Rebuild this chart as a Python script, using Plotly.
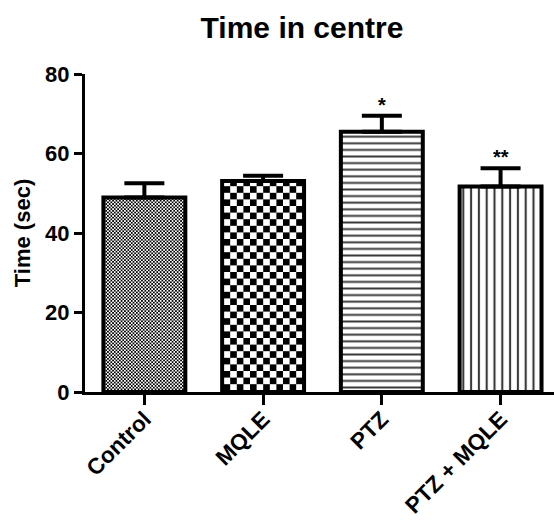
import plotly.graph_objects as go

categories = ["Control", "MQLE", "PTZ", "PTZ + MQLE"]
means = [48.9, 53.1, 65.5, 51.7]
sem = [3.6, 1.3, 4.0, 4.6]
significance = ["", "", "*", "**"]
y_ticks = [0, 20, 40, 60, 80]

FONT = "Liberation Sans, Arial, sans-serif"


def checker(sq, fallback_size):
    s = 2 * sq
    path = f"M0,0H{sq}V{sq}H0Z M{sq},{sq}H{s}V{s}H{sq}Z"
    try:
        go.bar.marker.Pattern(path=path)
        return dict(path=path, size=s, fgcolor="black", bgcolor="white", fgopacity=1, solidity=1)
    except Exception:
        return dict(shape=".", size=fallback_size, solidity=0.55, fgcolor="black",
                    bgcolor="white", fgopacity=1)


patterns = [
    checker(1.7, 3.4),
    checker(6.6, 7),
    dict(shape="-", size=6.6, solidity=0.3, fgcolor="#3a3a3a", bgcolor="white", fgopacity=1),
    dict(shape="|", size=7.8, solidity=0.27, fgcolor="#3a3a3a", bgcolor="white", fgopacity=1),
]

fig = go.Figure()
for i, cat in enumerate(categories):
    fig.add_trace(go.Bar(
        x=[cat], y=[means[i]],
        width=0.69,
        marker=dict(color="white", line=dict(color="black", width=4), pattern=patterns[i]),
        error_y=dict(type="data", array=[sem[i]], symmetric=False, arrayminus=[0],
                     color="black", thickness=4, width=20),
        showlegend=False,
    ))
    if significance[i]:
        fig.add_annotation(x=cat, y=means[i] + sem[i], text=f"<b>{significance[i]}</b>",
                           showarrow=False, yanchor="bottom", yshift=-2,
                           font=dict(family=FONT, size=20, color="black"))

fig.update_layout(
    width=554, height=523,
    margin=dict(l=85, r=0, t=74, b=131),
    paper_bgcolor="white", plot_bgcolor="white",
    barmode="overlay",
    title=dict(text="<b>Time in centre</b>", x=302 / 554, xanchor="center",
               y=1 - 27 / 523, yanchor="middle",
               font=dict(family=FONT, size=30, color="black")),
    font=dict(family=FONT, color="black"),
)
fig.update_xaxes(
    type="category", categoryorder="array", categoryarray=categories,
    range=[-0.5, 3.45], automargin=False,
    showline=True, linecolor="black", linewidth=3,
    ticks="outside", ticklen=10, tickwidth=3, tickcolor="black",
    ticklabelstandoff=-8,
    tickangle=-45, tickfont=dict(family=FONT, size=22.5, color="black", weight="bold"),
    showgrid=False, zeroline=False,
)
fig.update_yaxes(
    range=[0, 80], tickvals=y_ticks, automargin=False,
    showline=True, linecolor="black", linewidth=3,
    ticks="outside", ticklen=8, tickwidth=3, tickcolor="black",
    tickfont=dict(family=FONT, size=22, color="black", weight="bold"),
    title=dict(text="<b>Time (sec)</b>", font=dict(family=FONT, size=22, color="black"), standoff=9),
    showgrid=False, zeroline=False,
)

fig.write_html("out.html", config={"displayModeBar": False},
               post_script="document.body.style.margin='0';")
